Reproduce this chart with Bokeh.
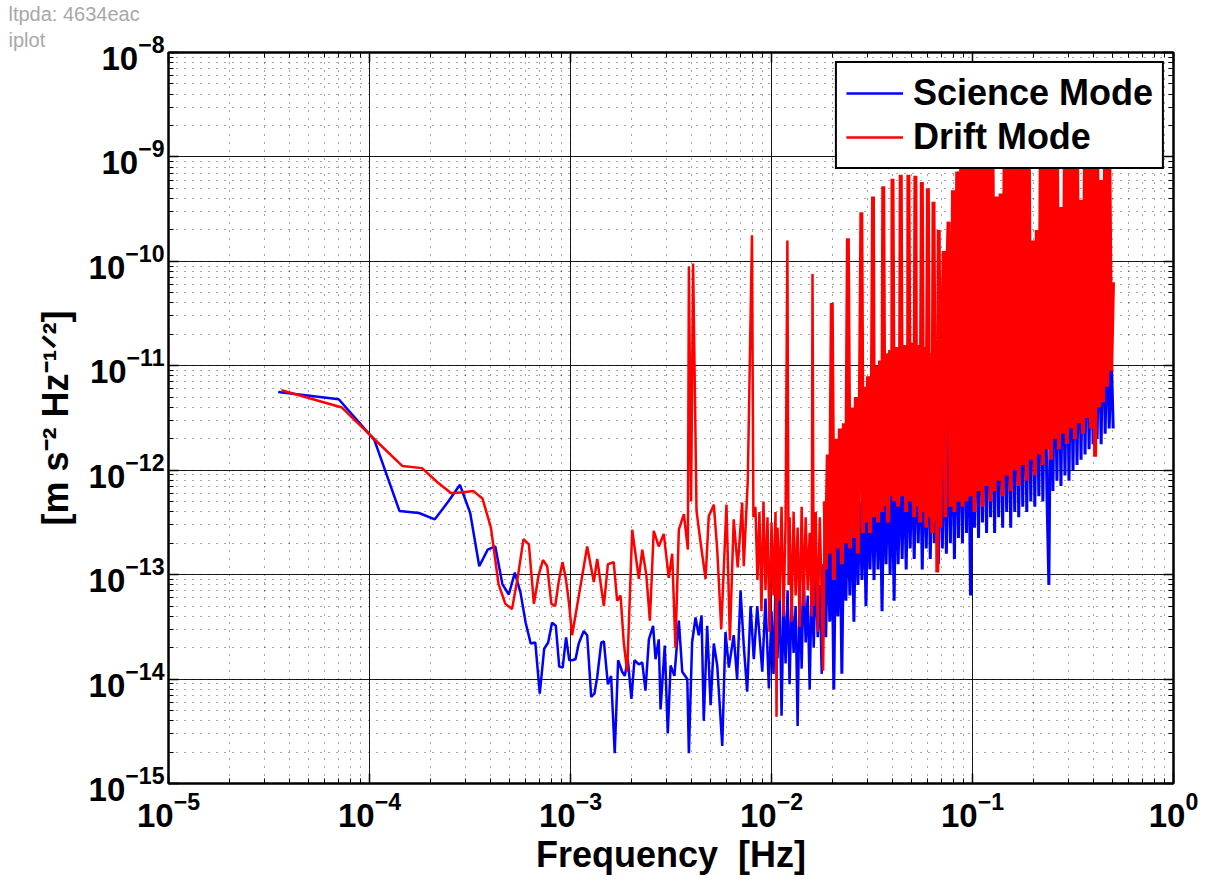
import numpy as np
from bokeh.plotting import figure
from bokeh.models import LogAxis, Legend, LegendItem, Title
from bokeh.embed import file_html
from bokeh.resources import INLINE

FONT = "Liberation Sans"

# ---------------- Science Mode (blue) ----------------
# log10 of frequency [Hz] and log10 of ASD [m s^-2 Hz^-1/2]
science_logf_low = [-4.454, -4.153, -3.976, -3.851, -3.754, -3.675, -3.608, -3.550, -3.499, -3.454,
                    -3.412, -3.374, -3.339, -3.307, -3.277, -3.249, -3.223, -3.198, -3.175, -3.153,
                    -3.131, -3.111, -3.092, -3.073, -3.056, -3.039, -3.022, -3.006]
science_logasd_low = [-11.25, -11.32, -11.71, -12.39, -12.41, -12.47, -12.30, -12.14, -12.41, -12.92,
                      -12.76, -12.73, -13.09, -13.19, -12.98, -13.17, -13.46, -13.66, -13.65, -14.14,
                      -13.71, -13.65, -13.46, -13.49, -13.88, -13.89, -13.60, -13.82]

science_logf_mid = [-2.992, -2.975, -2.959, -2.934, -2.917, -2.897, -2.881, -2.867, -2.847, -2.834,
                    -2.814, -2.798, -2.780, -2.763, -2.743, -2.730, -2.715, -2.697, -2.682, -2.660,
                    -2.643, -2.627, -2.610, -2.589, -2.577, -2.561, -2.552, -2.531, -2.516, -2.502,
                    -2.483, -2.461, -2.444, -2.419, -2.411, -2.395, -2.378, -2.362, -2.348, -2.337,
                    -2.320, -2.303, -2.287, -2.270, -2.245, -2.229, -2.212, -2.188, -2.171, -2.154,
                    -2.138, -2.121, -2.104, -2.088, -2.071, -2.046, -2.030, -2.013]
science_logasd_mid = [-13.82, -13.81, -13.66, -13.54, -13.58, -14.17, -14.14, -13.98, -13.65, -13.64,
                      -14.05, -13.97, -14.71, -13.82, -13.93, -13.97, -13.81, -14.19, -13.82, -13.86,
                      -13.84, -14.11, -13.62, -13.49, -13.81, -13.62, -14.29, -13.68, -14.52, -13.87,
                      -13.97, -13.44, -13.93, -14.00, -14.71, -13.65, -13.41, -13.58, -13.39, -14.40,
                      -13.49, -14.25, -13.66, -13.87, -14.64, -13.55, -13.89, -13.58, -14.00, -13.15,
                      -13.68, -14.12, -13.30, -13.81, -13.30, -13.93, -13.23, -14.09]

science_logf_high = [-2.00, -1.99, -1.98, -1.97, -1.96, -1.95, -1.94, -1.93, -1.92, -1.91,
                     -1.90, -1.89, -1.88, -1.87, -1.86, -1.85, -1.84, -1.83, -1.82, -1.81,
                     -1.80, -1.79, -1.78, -1.77, -1.76, -1.75, -1.74, -1.73, -1.72, -1.71,
                     -1.70, -1.69, -1.68, -1.67, -1.66, -1.65, -1.64, -1.63, -1.62, -1.61,
                     -1.60, -1.59, -1.58, -1.57, -1.56, -1.55, -1.54, -1.53, -1.52, -1.51,
                     -1.50, -1.49, -1.48, -1.47, -1.46, -1.45, -1.44, -1.43, -1.42, -1.41,
                     -1.40, -1.39, -1.38, -1.37, -1.36, -1.35, -1.34, -1.33, -1.32, -1.31,
                     -1.30, -1.29, -1.28, -1.27, -1.26, -1.25, -1.24, -1.23, -1.22, -1.21,
                     -1.20, -1.19, -1.18, -1.17, -1.16, -1.15, -1.14, -1.13, -1.12, -1.11,
                     -1.10, -1.09, -1.08, -1.07, -1.06, -1.05, -1.04, -1.03, -1.02, -1.01,
                     -1.00, -0.99, -0.98, -0.97, -0.96, -0.95, -0.94, -0.93, -0.92, -0.91,
                     -0.90, -0.89, -0.88, -0.87, -0.86, -0.85, -0.84, -0.83, -0.82, -0.81,
                     -0.80, -0.79, -0.78, -0.77, -0.76, -0.75, -0.74, -0.73, -0.72, -0.71,
                     -0.70, -0.69, -0.68, -0.67, -0.66, -0.65, -0.64, -0.63, -0.62, -0.61,
                     -0.60, -0.59, -0.58, -0.57, -0.56, -0.55, -0.54, -0.53, -0.52, -0.51,
                     -0.50, -0.49, -0.48, -0.47, -0.46, -0.45, -0.44, -0.43, -0.42, -0.41,
                     -0.40, -0.39, -0.38, -0.37, -0.36, -0.35, -0.34, -0.33, -0.32, -0.31,
                     -0.30]
science_logasd_high = [-13.35, -13.95, -13.10, -13.80, -13.05, -14.35, -13.25, -13.85, -13.15, -14.05,
                       -13.20, -13.75, -13.30, -14.45, -13.10, -13.90, -13.00, -13.65, -13.20, -14.10,
                       -13.05, -13.70, -12.95, -13.60, -13.10, -13.95, -12.90, -13.60, -12.55, -13.45,
                       -12.50, -14.10, -12.45, -13.40, -12.40, -13.95, -12.35, -13.25, -12.40, -13.20,
                       -12.30, -13.45, -12.25, -13.10, -12.30, -13.05, -12.20, -13.30, -12.20, -12.95,
                       -12.15, -13.05, -12.10, -12.95, -12.05, -13.35, -12.00, -12.90, -11.95, -13.00,
                       -11.95, -13.25, -11.90, -12.90, -11.90, -12.85, -11.85, -12.95, -11.85, -12.75,
                       -11.80, -12.85, -11.75, -12.70, -11.70, -12.95, -11.70, -12.75, -11.65, -12.85,
                       -11.60, -12.70, -11.55, -12.90, -11.50, -12.75, -11.50, -12.80, -11.45, -12.70,
                       -11.40, -12.85, -11.40, -12.65, -11.35, -12.70, -11.30, -12.60, -11.25, -13.20,
                       -11.20, -12.55, -11.20, -12.65, -11.15, -12.50, -11.10, -12.60, -11.10, -12.45,
                       -11.05, -12.60, -11.05, -12.45, -11.00, -12.55, -10.95, -12.40, -10.95, -12.55,
                       -10.90, -12.40, -10.85, -12.45, -10.85, -12.35, -10.80, -12.40, -10.80, -12.30,
                       -10.75, -12.35, -10.75, -12.25, -10.70, -12.30, -10.70, -12.20, -13.10, -10.65,
                       -12.20, -10.65, -12.10, -10.60, -12.15, -10.65, -12.05, -10.60, -12.10, -10.60,
                       -12.00, -10.55, -11.95, -10.60, -11.90, -10.55, -11.85, -10.50, -11.80, -10.55,
                       -11.75, -10.50, -11.70, -10.45, -11.75, -10.37, -11.65, -10.60, -11.60, -10.85,
                       -11.60]

# ---------------- Drift Mode (red) ----------------
drift_logf_low = [-4.438, -4.137, -3.961, -3.836, -3.739, -3.659, -3.593, -3.535, -3.483, -3.438,
                  -3.396, -3.358, -3.324, -3.291, -3.261, -3.234, -3.207, -3.182, -3.159, -3.137,
                  -3.116, -3.095, -3.076, -3.058, -3.040, -3.023, -3.007, -2.992]
drift_logasd_low = [-11.235, -11.40, -11.73, -11.96, -11.98, -12.12, -12.22, -12.21, -12.20, -12.27,
                    -12.55, -13.09, -13.28, -13.33, -13.01, -12.66, -12.71, -13.28, -13.01, -12.86,
                    -12.92, -13.28, -13.30, -13.06, -12.88, -13.04, -13.28, -13.58]

drift_logf_mid = [-2.917, -2.884, -2.867, -2.834, -2.814, -2.785, -2.768, -2.751, -2.735, -2.718,
                  -2.693, -2.660, -2.643, -2.623, -2.605, -2.586, -2.561, -2.536, -2.511, -2.494,
                  -2.478, -2.461, -2.436, -2.416, -2.411, -2.400, -2.390, -2.373, -2.353, -2.328,
                  -2.312, -2.287, -2.270, -2.250, -2.224, -2.207, -2.188, -2.168, -2.146, -2.138,
                  -2.118, -2.097, -2.090]
drift_logasd_mid = [-12.73, -13.07, -12.85, -13.30, -12.90, -12.88, -13.25, -13.20, -13.65, -13.93,
                    -12.57, -13.04, -12.76, -13.00, -13.44, -12.58, -12.73, -12.61, -13.03, -12.80,
                    -13.70, -12.57, -12.42, -12.76, -10.05, -12.30, -10.02, -12.39, -12.69, -13.04,
                    -12.44, -12.33, -12.76, -13.52, -12.33, -13.63, -12.47, -12.93, -12.31, -12.92,
                    -12.10, -9.75, -12.45]

drift_logf_knee = [-2.08, -2.07, -2.06, -2.05, -2.04, -2.03, -2.02, -2.01, -2.00, -1.99,
                   -1.98, -1.975, -1.97, -1.96, -1.95, -1.94, -1.93, -1.921, -1.915, -1.91,
                   -1.90, -1.89, -1.88, -1.87, -1.86, -1.85, -1.84, -1.83, -1.82, -1.81,
                   -1.80, -1.796, -1.79, -1.78, -1.77, -1.76, -1.75, -1.743, -1.735]
drift_logasd_knee = [-12.35, -13.05, -12.40, -13.35, -12.30, -13.15, -12.45, -13.55, -12.50, -13.20,
                     -12.40, -14.36, -12.55, -13.25, -12.35, -13.40, -12.50, -9.80, -13.10, -12.45,
                     -13.45, -12.40, -13.20, -12.55, -13.50, -12.35, -13.30, -12.45, -13.15, -12.60,
                     -13.40, -10.12, -13.30, -12.40, -13.55, -12.45, -13.20, -13.92, -12.30]

drift_logf_hump = [-1.73, -1.72, -1.71, -1.70, -1.69, -1.68, -1.67, -1.66, -1.65, -1.64,
                   -1.63, -1.62, -1.61, -1.60, -1.59, -1.58, -1.57, -1.56, -1.553, -1.545,
                   -1.54, -1.53, -1.52, -1.51, -1.50, -1.495, -1.49, -1.48, -1.47, -1.46,
                   -1.45, -1.444, -1.437, -1.43, -1.42, -1.41, -1.40, -1.398, -1.39, -1.38,
                   -1.37, -1.36, -1.357, -1.35, -1.34, -1.33, -1.32, -1.319, -1.31, -1.30,
                   -1.29, -1.284, -1.28, -1.27, -1.26, -1.252, -1.245, -1.24, -1.23, -1.222,
                   -1.215, -1.21, -1.20, -1.194, -1.185, -1.18, -1.175, -1.168, -1.16, -1.15,
                   -1.143, -1.135, -1.13, -1.119, -1.11, -1.10, -1.097, -1.09, -1.08, -1.076,
                   -1.07, -1.06, -1.056, -1.05, -1.04, -1.036, -1.03]
drift_logasd_hump = [-12.95, -11.85, -12.80, -10.40, -13.05, -11.70, -12.75, -11.60, -12.90, -11.55,
                     -12.70, -9.78, -12.75, -11.40, -12.65, -11.30, -12.80, -11.25, -9.53, -12.60,
                     -11.20, -12.50, -11.10, -12.60, -11.05, -9.38, -12.45, -11.00, -12.50, -10.95,
                     -12.40, -9.28, -12.35, -10.88, -12.50, -10.85, -12.25, -9.21, -12.30, -10.82,
                     -12.35, -10.80, -9.17, -12.25, -10.80, -12.40, -10.78, -9.17, -12.30, -10.78,
                     -12.45, -9.18, -12.35, -10.80, -12.50, -9.24, -12.40, -10.82, -12.55, -9.30,
                     -12.45, -10.88, -12.60, -9.43, -12.50, -10.95, -12.98, -9.70, -12.55, -10.60,
                     -9.90, -12.45, -10.40, -9.62, -12.35, -10.20, -9.32, -12.40, -10.00, -9.14,
                     -12.30, -9.80, -9.06, -12.35, -9.00, -8.95, -12.30]

drift_logf_high = [-1.02, -1.01, -1.00, -0.99, -0.98, -0.97, -0.96, -0.95, -0.94, -0.93,
                   -0.92, -0.91, -0.90, -0.89, -0.88, -0.87, -0.86, -0.85, -0.84, -0.83,
                   -0.82, -0.81, -0.80, -0.79, -0.78, -0.77, -0.76, -0.75, -0.74, -0.73,
                   -0.72, -0.71, -0.70, -0.69, -0.68, -0.67, -0.66, -0.65, -0.64, -0.63,
                   -0.62, -0.61, -0.60, -0.59, -0.58, -0.57, -0.56, -0.55, -0.54, -0.53,
                   -0.52, -0.51, -0.50, -0.49, -0.48, -0.47, -0.46, -0.45, -0.44, -0.43,
                   -0.42, -0.41, -0.40, -0.39, -0.38, -0.37, -0.36, -0.35, -0.34, -0.33,
                   -0.32, -0.31, -0.301]
drift_logasd_high = [-8.90, -12.25, -9.00, -12.40, -8.85, -12.20, -8.95, -12.35, -8.90, -12.15,
                     -8.85, -12.30, -9.10, -12.20, -9.38, -12.10, -9.35, -12.25, -8.90, -12.05,
                     -8.85, -12.20, -8.95, -12.00, -8.90, -12.15, -8.85, -11.95, -8.90, -12.10,
                     -8.95, -11.90, -9.80, -12.05, -9.70, -11.85, -8.90, -11.95, -8.85, -11.80,
                     -8.95, -11.90, -8.90, -11.70, -8.85, -11.80, -9.48, -11.65, -8.90, -11.75,
                     -8.85, -11.60, -8.95, -11.70, -8.90, -11.55, -9.41, -11.65, -8.85, -11.50,
                     -8.90, -11.60, -8.95, -11.87, -8.90, -11.40, -9.22, -11.35, -8.90, -11.20,
                     -8.85, -11.05, -10.20]

x_ticks_decades = [-5, -4, -3, -2, -1, 0]
y_ticks_decades = [-15, -14, -13, -12, -11, -10, -9, -8]

DENSE_FROM = -1.735   # log10(Hz) where the spectra turn into a dense band


def build(*segments):
    lf, la = [], []
    for f_part, a_part in segments:
        assert len(f_part) == len(a_part), (len(f_part), len(a_part))
        lf += f_part
        la += a_part
    lf = np.array(lf)
    la = np.array(la)
    split = int(np.searchsorted(lf, DENSE_FROM, side="right"))
    sparse = (10.0 ** lf[:split], 10.0 ** la[:split])
    dense = (10.0 ** lf[split - 1:], 10.0 ** la[split - 1:])
    return sparse, dense


sci_sparse, sci_dense = build((science_logf_low, science_logasd_low),
                              (science_logf_mid, science_logasd_mid),
                              (science_logf_high, science_logasd_high))
dr_sparse, dr_dense = build((drift_logf_low, drift_logasd_low),
                            (drift_logf_mid, drift_logasd_mid),
                            (drift_logf_knee, drift_logasd_knee),
                            (drift_logf_hump, drift_logasd_hump),
                            (drift_logf_high, drift_logasd_high))

p = figure(width=1223, height=877, x_axis_type="log", y_axis_type="log",
           x_range=(10.0 ** x_ticks_decades[0], 10.0 ** x_ticks_decades[-1]),
           y_range=(10.0 ** y_ticks_decades[0], 10.0 ** y_ticks_decades[-1]),
           output_backend="svg", toolbar_location=None,
           min_border_left=168, min_border_right=50, min_border_top=52, min_border_bottom=92)

p.background_fill_color = "white"
p.border_fill_color = "white"
p.outline_line_color = "black"
p.outline_line_width = 2

for ax in (p.xaxis[0], p.yaxis[0]):
    ax.ticker.num_minor_ticks = 10
    ax.major_label_text_font = FONT
    ax.major_label_text_font_style = "bold"
    ax.major_label_text_font_size = "33px"
    ax.major_label_text_color = "black"
    ax.axis_label_text_font = FONT
    ax.axis_label_text_font_style = "bold"
    ax.axis_label_text_font_size = "36px"
    ax.axis_label_text_color = "black"
    ax.major_tick_in = 10
    ax.major_tick_out = 0
    ax.minor_tick_in = 5
    ax.minor_tick_out = 0
    ax.major_tick_line_width = 1.5
    ax.axis_line_width = 2

p.xaxis.axis_label = "Frequency\u00a0\u00a0[Hz]"
p.yaxis.axis_label = "[m s\u207b\u00b2 Hz\u207b\u00b9\u141f\u00b2]"
p.xaxis.major_label_standoff = 8
p.yaxis.major_label_standoff = 4
p.xaxis.axis_label_standoff = 4
p.yaxis.axis_label_standoff = 10

for loc in ("right", "above"):
    ax = LogAxis(major_label_text_font_size="1px", major_label_text_alpha=0.0,
                 major_label_standoff=0, major_tick_in=10, major_tick_out=0,
                 minor_tick_in=5, minor_tick_out=0, axis_line_width=2, major_tick_line_width=1.5)
    ax.ticker.num_minor_ticks = 10
    p.add_layout(ax, loc)

for g in (p.xgrid[0], p.ygrid[0]):
    g.grid_line_color = "black"
    g.grid_line_width = 1
    g.grid_line_alpha = 0.9
    g.minor_grid_line_color = "black"
    g.minor_grid_line_alpha = 0.7
    g.minor_grid_line_dash = "1 7"
    g.minor_grid_line_width = 1

r_sci = p.line(*sci_sparse, line_color="#0000ff", line_width=2.5)
p.line(*sci_dense, line_color="#0000ff", line_width=3)
r_dr = p.line(*dr_sparse, line_color="#ff0000", line_width=2.5)
p.line(*dr_dense, line_color="#ff0000", line_width=4)

legend = Legend(items=[LegendItem(label="Science Mode", renderers=[r_sci]),
                       LegendItem(label="Drift Mode", renderers=[r_dr])],
                location="top_right", label_text_font=FONT, label_text_font_style="bold",
                label_text_font_size="36px", label_text_color="black",
                glyph_width=57, glyph_height=40, label_standoff=10,
                padding=9, spacing=2, margin=9, border_line_color="black", border_line_width=2,
                border_line_alpha=1.0, background_fill_color="white", background_fill_alpha=1.0)
p.add_layout(legend)

p.add_layout(Title(text="iplot", align="left", offset=-160, standoff=4, text_font=FONT,
                   text_font_size="20px", text_font_style="normal", text_color="#a8a8a8"), "above")
p.add_layout(Title(text="ltpda: 4634eac", align="left", offset=-160, standoff=0, text_font=FONT,
                   text_font_size="20px", text_font_style="normal", text_color="#a8a8a8"), "above")

open("out.html", "w").write(file_html(p, INLINE))
